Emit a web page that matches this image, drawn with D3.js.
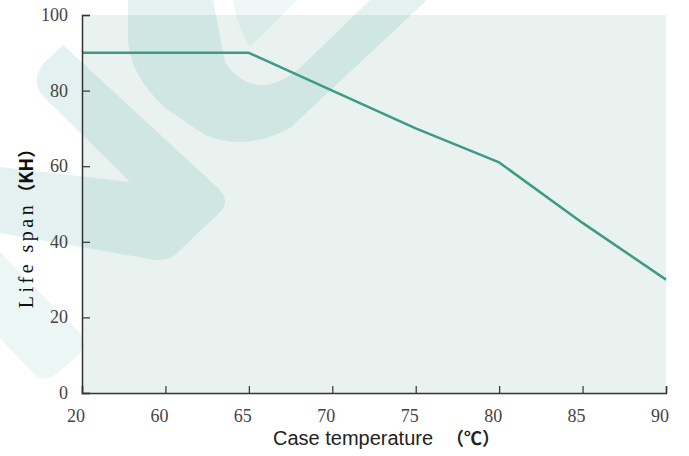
<!doctype html>
<html>
<head>
<meta charset="UTF-8">
<title>Life span vs case temperature</title>
<script src="https://d3js.org/d3.v7.min.js"></script>
<style>
  body { margin: 0; background: #fff; }
</style>
</head>
<body>
<script>
// data
var temps = ["20", "60", "65", "70", "75", "80", "85", "90"];
var lifeKH = [90, 90, 90, 80, 70, 61, 45, 30];
var yTicks = [0, 20, 40, 60, 80, 100];

var W = 689, H = 456;
var plotL = 82, plotR = 666, plotT = 15, plotB = 393;

var svg = d3.select("body").append("svg")
  .attr("width", W).attr("height", H);

var x = d3.scalePoint().domain(temps).range([plotL, plotR]);
var y = d3.scaleLinear().domain([0, 100]).range([plotB, plotT]);

// plot background
svg.append("rect")
  .attr("x", plotL).attr("y", plotT)
  .attr("width", plotR - plotL).attr("height", plotB - plotT)
  .attr("fill", "#e9f2ef");

// faint watermark behind the chart
var wm = svg.append("g").attr("fill", "#2a9d8f");
wm.append("path")
  .attr("opacity", 0.13)
  .attr("d", "M63,45 L218,188 Q232,202 218,214 L175,255 Q165,262 150,259 L0,233 L0,167 L130,182 L42,95 Q30,80 45,62 Z");
wm.append("path")
  .attr("opacity", 0.09)
  .attr("d", "M0,252 L80,333 Q88,345 76,357 L55,375 Q43,383 33,373 L0,338 Z");
wm.append("path")
  .attr("opacity", 0.13)
  .attr("d", "M128,0 L128,40 Q130,75 165,108 L205,135 Q245,152 290,128 L427,0 L370,0 L300,68 Q255,105 225,62 L213,0 Z");
wm.append("path")
  .attr("opacity", 0.07)
  .attr("d", "M233,0 L297,0 L250,47 Q238,30 233,0 Z");

// line
var line = d3.line()
  .x(function(d, i){ return x(temps[i]); })
  .y(function(d){ return y(d); });

svg.append("path")
  .datum(lifeKH)
  .attr("d", line)
  .attr("fill", "none")
  .attr("stroke", "#3d9a86")
  .attr("stroke-width", 2.5)
  .attr("stroke-linejoin", "round");

// axes
var yAxis = svg.append("g")
  .attr("transform", "translate(" + plotL + ",0)")
  .call(d3.axisRight(y).tickValues(yTicks).tickSize(8).tickFormat(""));
var xAxis = svg.append("g")
  .attr("transform", "translate(0," + plotB + ")")
  .call(d3.axisTop(x).tickSize(7).tickFormat(""));

[yAxis, xAxis].forEach(function(a){
  a.select(".domain").attr("stroke", "#333").attr("stroke-width", 1.5);
  a.selectAll(".tick line").attr("stroke", "#333").attr("stroke-width", 1.2);
});

// tick labels
svg.selectAll("text.ylab").data(yTicks).enter().append("text")
  .attr("class", "ylab")
  .attr("x", 68).attr("y", function(d){ return y(d) + 6; })
  .attr("text-anchor", "end")
  .attr("font-family", "Liberation Serif, serif")
  .attr("font-size", 18)
  .attr("fill", "#444")
  .text(function(d){ return d; });

svg.selectAll("text.xlab").data(temps).enter().append("text")
  .attr("class", "xlab")
  .attr("x", function(d){ return x(d) - 6; })
  .attr("y", 422)
  .attr("text-anchor", "middle")
  .attr("font-family", "Liberation Serif, serif")
  .attr("font-size", 18)
  .attr("fill", "#444")
  .text(function(d){ return d; });

// axis titles
var xt = svg.append("text")
  .attr("x", 273).attr("y", 445)
  .attr("font-family", "Liberation Sans, Arial, sans-serif")
  .attr("font-size", 20)
  .attr("fill", "#222");
xt.append("tspan").text("Case temperature");
xt.append("tspan").attr("x", 446)
  .attr("font-weight", "bold").attr("font-family", "Noto Sans CJK SC")
  .attr("font-size", 18)
  .text("（℃）");

var yt = svg.append("text")
  .attr("transform", "translate(33,224) rotate(-90)")
  .attr("text-anchor", "middle")
  .attr("font-size", 20)
  .attr("fill", "#111");
yt.append("tspan").attr("font-family", "Liberation Serif, serif")
  .attr("letter-spacing", 3.5).text("Life span");
yt.append("tspan").attr("font-family", "Noto Sans CJK SC").attr("font-weight", "bold")
  .attr("font-size", 18)
  .text("（KH）");
</script>
</body>
</html>
